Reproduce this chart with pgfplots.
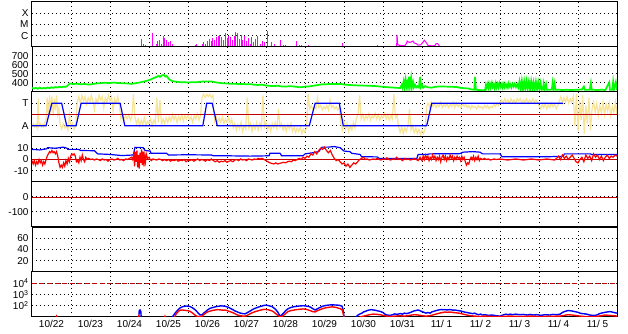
\documentclass[border=0pt]{standalone}
\usepackage{pgfplots}
\pgfplotsset{compat=1.18}
\usepackage{fontspec}
\setmainfont{Liberation Sans}
\definecolor{mag}{RGB}{255,0,255}
\definecolor{grn}{RGB}{0,255,0}
\definecolor{yel}{RGB}{248,228,150}
\definecolor{blu}{RGB}{0,0,255}
\definecolor{rd}{RGB}{255,0,0}
\definecolor{drd}{RGB}{192,0,0}
\pgfplotsset{
 panel/.style={
  width=585pt, height=45pt, scale only axis,
  anchor=south west,
  xmin=0, xmax=15,
  axis line style={black, line width=1pt},
  xtick={0.5,1.5,...,14.5},
  xticklabels={},
  minor xtick={1,2,...,14},
  xminorgrids=true, ymajorgrids=true,
  major tick length=0pt, minor tick length=0pt,
  grid style={black, line width=1pt, dash pattern=on 1pt off 3pt},
  minor grid style={black, line width=1pt, dash pattern=on 1pt off 3pt},
  tick label style={font=\fontsize{10}{11}\selectfont},
  /pgf/number format/assume math mode=true,
  unbounded coords=jump,
  every axis plot/.append style={no marks},
 }
}
\begin{document}
\begin{tikzpicture}
\useasboundingbox (0,0) rectangle (628pt,334pt);
% ---------------- panel 1: X-ray class
\begin{axis}[panel, at={(32pt,287pt)}, ymin=0, ymax=4, ytick={1,2,3}, yticklabels={C,M,X}]
\addplot[mag, ycomb, line width=1pt] coordinates {
(2.82,0.7)(2.85,0.3)(2.90,0.2)(3.08,1.2)(3.10,0.6)(3.18,0.3)(3.23,0.5)(3.26,0.6)(3.31,0.3)
(3.36,0.7)(3.38,1.0)(3.41,0.8)(3.44,0.6)(3.49,0.4)(3.54,0.5)(3.59,0.3)
(4.18,0.2)(4.23,0.3)(4.36,0.3)(4.41,0.4)(4.46,0.3)(4.51,0.5)(4.54,0.7)(4.59,0.5)(4.64,0.8)
(4.67,0.6)(4.72,0.9)(4.74,0.7)(4.77,1.0)(4.79,0.6)(4.82,1.1)(4.85,0.7)(4.87,0.9)(4.92,0.6)
(4.95,1.1)(4.97,1.2)(5.00,0.8)(5.03,1.0)(5.08,0.7)(5.10,0.9)(5.13,0.6)(5.18,1.0)(5.21,1.1)
(5.23,1.3)(5.26,0.9)(5.28,1.2)(5.33,0.7)(5.36,1.1)(5.41,0.6)(5.46,1.0)(5.49,0.5)(5.54,0.8)
(5.59,0.3)(5.64,0.9)(5.69,0.4)(5.74,0.7)(5.79,1.0)(5.85,0.3)(5.90,0.5)(5.95,0.4)(6.03,1.4)
(6.05,0.5)(6.13,0.4)(6.23,0.3)(6.36,0.6)(6.44,0.2)(6.49,0.2)(6.79,0.5)(6.85,0.2)(6.90,0.2)
(7.10,0.2)(7.95,0.35)(7.97,0.3)(8.85,0.2)
};
\addplot[mag, line width=1pt] coordinates {
(9.35,0.1)(9.36,1.07)(9.37,0.6)(9.38,0.2)(9.42,0.15)(9.50,0.12)(9.56,0.12)(9.60,0.3)(9.62,0.53)
(9.65,0.45)(9.69,0.4)(9.72,0.45)(9.77,0.53)(9.80,0.35)(9.85,0.3)(9.90,0.16)(9.97,0.2)(10.03,0.45)
(10.06,0.6)(10.08,0.5)(10.11,0.4)(10.15,0.15)(10.25,0.1)(10.33,0.12)(10.36,0.3)(10.40,0.3)
(10.44,0.12)(10.46,0.0)
};
\end{axis}
% ---------------- panel 2: speed
\begin{axis}[panel, at={(32pt,242pt)}, ymin=300, ymax=800, ytick={400,500,600,700}, yticklabels={400,500,600,700}]
\addplot[grn, line width=1.7pt] coordinates {
(0.00,345)(0.05,338)(0.10,346)(0.15,336)(0.20,348)(0.25,338)(0.30,345)(0.35,340)(0.40,350)(0.45,342)
(0.50,352)(0.55,346)(0.60,355)(0.65,350)(0.70,358)(0.75,352)(0.80,360)(0.85,356)(0.90,365)(0.97,395)
(1.05,388)(1.15,392)(1.25,385)(1.35,390)(1.45,382)(1.55,388)(1.65,395)(1.75,398)(1.85,402)(2.00,400)
(2.10,405)(2.20,400)(2.30,398)(2.45,395)(2.55,390)(2.65,398)(2.75,405)(2.85,415)(2.95,425)(3.05,440)
(3.12,455)(3.20,470)(3.25,480)(3.28,468)(3.33,485)(3.38,490)(3.42,472)(3.45,478)(3.52,440)(3.60,420)
(3.70,415)(3.80,408)(3.90,410)(4.00,405)(4.10,410)(4.20,408)(4.30,412)(4.40,418)(4.50,415)(4.60,418)
(4.70,408)(4.82,400)(4.90,398)(5.00,395)(5.10,390)(5.20,392)(5.30,388)(5.40,390)(5.50,385)(5.60,388)
(5.70,380)(5.80,378)(5.90,382)(6.00,372)(6.10,368)(6.20,365)(6.30,370)(6.40,362)(6.50,360)(6.60,365)
(6.70,362)(6.87,352)(7.00,360)(7.10,362)(7.25,372)(7.44,385)(7.60,388)(7.80,390)(7.95,388)(8.05,380)
(8.20,376)(8.40,372)(8.60,370)(8.80,366)(9.05,356)(9.15,352)(9.25,350)(9.35,346)(9.44,345)(9.48,380)
(9.50,350)(9.53,420)(9.55,355)(9.58,440)(9.60,360)(9.62,400)(9.64,350)(9.67,470)(9.69,360)(9.72,455)
(9.74,350)(9.77,410)(9.79,352)(9.82,380)(9.85,350)(9.88,365)(9.92,350)(9.95,468)(9.97,355)(10.00,380)
(10.03,348)(10.08,365)(10.15,352)(10.25,348)(10.35,358)(10.45,362)(10.60,360)(10.75,358)(10.90,355)
(11.00,345)(11.10,342)(11.20,338)(11.25,330)(11.30,328)(11.34,326)(11.36,468)(11.38,326)(11.45,322)
(11.55,320)(11.62,322)(11.64,380)(11.66,350)(11.69,395)(11.71,345)(11.74,390)(11.76,350)(11.79,400)
(11.81,355)(11.84,385)(11.86,345)(11.89,398)(11.91,350)(11.94,390)(11.96,352)(11.99,400)(12.02,355)
(12.05,390)(12.07,350)(12.10,392)(12.12,355)(12.15,388)(12.18,350)(12.21,395)(12.23,355)(12.26,385)
(12.29,350)(12.32,390)(12.35,360)(12.38,392)(12.41,355)(12.44,385)(12.47,350)(12.50,420)(12.53,330)
(12.56,425)(12.59,325)(12.62,418)(12.65,330)(12.68,420)(12.71,335)(12.74,415)(12.77,325)(12.80,420)
(12.83,330)(12.86,410)(12.89,325)(12.92,415)(12.95,330)(12.98,405)(13.01,325)(13.04,400)(13.07,325)
(13.10,330)(13.12,390)(13.14,325)(13.18,388)(13.20,325)(13.28,325)(13.33,330)(13.35,400)(13.37,330)
(13.40,395)(13.42,325)(13.50,325)(13.60,322)(13.70,325)(13.80,322)(14.00,325)(14.10,328)(14.15,360)
(14.17,325)(14.30,325)(14.33,400)(14.35,325)(14.50,322)(14.60,325)(14.70,322)(14.80,405)(14.82,325)
(14.88,325)(14.90,410)(14.92,325)(14.97,410)(15.00,325)
};
\end{axis}
% ---------------- panel 3: A / T
\begin{axis}[panel, at={(32pt,197pt)}, ymin=0, ymax=4, ytick={1,3}, yticklabels={A,T}]
\addplot[yel, line width=1.2pt] coordinates {
(0.00,1.0)(0.04,1.2)(0.07,0.9)(0.10,1.1)(0.13,0.8)(0.16,3.4)(0.18,1.0)(0.21,1.2)(0.24,0.9)(0.27,1.1)
(0.30,0.9)(0.33,1.3)(0.36,1.6)(0.39,3.5)(0.42,1.8)(0.45,3.7)(0.48,2.2)(0.51,3.6)(0.54,1.9)(0.57,3.4)
(0.60,2.4)(0.63,3.7)(0.66,2.0)(0.69,2.6)(0.72,1.1)(0.76,0.7)(0.80,1.2)(0.84,0.8)(0.88,1.1)(0.92,0.6)
(0.96,2.0)(1.00,0.9)(1.04,1.2)(1.08,0.7)(1.12,1.0)(1.16,3.1)(1.20,3.6)(1.24,3.0)(1.28,3.7)(1.32,3.2)
(1.36,3.6)(1.40,2.9)(1.44,3.5)(1.48,3.1)(1.52,3.7)(1.56,3.2)(1.60,2.4)(1.64,3.4)(1.68,3.0)(1.72,3.7)
(1.76,3.3)(1.80,3.6)(1.84,2.6)(1.88,3.5)(1.92,3.1)(1.96,3.7)(2.00,3.2)(2.04,3.6)(2.08,2.3)(2.12,3.4)
(2.16,3.0)(2.20,3.6)(2.24,2.8)(2.28,1.6)(2.32,2.0)(2.36,1.5)(2.40,1.9)(2.44,1.6)(2.48,2.0)(2.52,1.5)
(2.56,1.8)(2.60,3.8)(2.64,1.7)(2.68,1.2)(2.72,1.6)(2.76,1.0)(2.80,1.5)(2.84,1.1)(2.88,1.7)(2.92,1.0)
(2.96,1.4)(3.00,1.2)(3.04,1.6)(3.08,1.0)(3.12,1.5)(3.16,1.2)(3.20,3.5)(3.24,1.3)(3.28,3.3)(3.32,1.1)
(3.36,1.6)(3.40,1.2)(3.44,1.7)(3.48,1.3)(3.52,1.8)(3.56,1.4)(3.60,2.0)(3.64,1.5)(3.68,1.9)(3.72,1.3)
(3.76,1.8)(3.80,1.5)(3.84,2.0)(3.88,1.4)(3.92,1.9)(3.96,1.6)(4.00,2.0)(4.04,1.5)(4.08,1.8)(4.12,1.3)
(4.16,1.9)(4.20,1.6)(4.24,2.1)(4.28,1.5)(4.32,1.9)(4.36,3.5)(4.40,3.8)(4.44,3.5)(4.48,3.8)(4.52,3.6)
(4.56,3.8)(4.60,3.5)(4.64,3.7)(4.68,1.4)(4.72,1.8)(4.76,1.2)(4.80,1.7)(4.84,1.3)(4.88,1.8)(4.92,1.2)
(4.96,1.6)(5.00,1.3)(5.04,1.8)(5.08,1.2)(5.12,1.6)(5.16,0.8)(5.20,1.2)(5.24,0.6)(5.28,1.1)(5.32,0.7)
(5.36,1.3)(5.40,0.5)(5.44,1.0)(5.48,0.7)(5.52,3.5)(5.56,0.8)(5.60,1.2)(5.64,0.5)(5.68,1.1)(5.72,0.7)
(5.76,1.3)(5.80,0.6)(5.84,1.2)(5.88,0.8)(5.92,3.7)(5.96,0.9)(6.00,1.3)(6.04,0.6)(6.08,1.1)(6.12,0.5)
(6.16,1.2)(6.20,0.8)(6.24,1.3)(6.28,0.7)(6.32,2.5)(6.36,0.9)(6.40,1.2)(6.44,0.6)(6.48,1.0)(6.52,0.5)
(6.56,1.1)(6.60,0.7)(6.64,1.2)(6.68,0.5)(6.72,0.9)(6.76,0.4)(6.80,0.8)(6.84,0.5)(6.88,0.9)(6.92,0.3)
(6.96,0.7)(7.00,0.4)(7.04,0.8)(7.08,3.8)(7.12,2.5)(7.16,2.8)(7.20,2.4)(7.24,2.7)(7.28,2.5)(7.32,3.5)
(7.36,2.6)(7.40,2.8)(7.44,2.4)(7.48,2.7)(7.52,2.5)(7.56,2.8)(7.60,2.4)(7.64,3.3)(7.68,2.6)(7.72,2.8)
(7.76,2.5)(7.80,2.7)(7.84,2.4)(7.88,2.6)(7.92,1.2)(7.96,0.6)(8.00,1.4)(8.04,0.7)(8.08,1.2)(8.12,0.5)
(8.16,1.0)(8.20,0.6)(8.24,1.3)(8.28,0.8)(8.32,1.7)(8.36,2.0)(8.40,3.7)(8.44,1.6)(8.48,2.0)(8.52,1.5)
(8.56,1.9)(8.60,1.6)(8.64,2.1)(8.68,1.5)(8.72,1.9)(8.76,1.7)(8.80,2.1)(8.84,1.6)(8.88,2.0)(8.92,1.5)
(8.96,1.9)(9.00,1.7)(9.04,2.1)(9.08,1.6)(9.12,2.0)(9.16,1.5)(9.20,1.9)(9.24,1.6)(9.28,3.8)(9.32,1.7)
(9.36,2.0)(9.40,0.9)(9.44,0.4)(9.48,0.9)(9.52,0.3)(9.56,0.8)(9.60,0.5)(9.64,1.0)(9.68,2.5)(9.72,0.6)
(9.76,1.0)(9.80,0.4)(9.84,0.8)(9.88,0.3)(9.92,0.7)(9.96,0.2)(10.00,0.6)(10.04,0.3)(10.08,0.7)(10.12,2.7)
(10.16,3.0)(10.20,2.6)(10.24,3.1)(10.28,2.7)(10.32,3.0)(10.36,2.6)(10.40,2.9)(10.44,2.7)(10.48,3.1)
(10.52,2.6)(10.56,2.9)(10.60,2.7)(10.64,3.0)(10.68,2.6)(10.72,2.9)(10.76,2.7)(10.80,3.1)(10.84,2.6)
(10.88,3.0)(10.92,2.7)(10.96,2.9)(11.00,2.6)(11.04,3.0)(11.08,2.7)(11.12,2.9)(11.16,2.6)(11.20,2.8)
(11.24,2.5)(11.28,2.8)(11.32,2.6)(11.36,2.7)(11.40,2.5)(11.44,2.8)(11.48,2.6)(11.52,2.7)(11.56,2.5)
(11.60,2.8)(11.64,2.6)(11.68,2.8)(11.72,2.5)(11.76,2.7)(11.80,2.6)(11.84,2.9)(11.88,2.7)(11.92,3.0)
(11.96,2.8)(12.00,3.1)(12.04,3.3)(12.08,3.0)(12.12,3.4)(12.16,3.1)(12.20,3.3)(12.24,3.0)(12.28,3.4)
(12.32,3.1)(12.36,3.3)(12.40,3.0)(12.44,3.4)(12.48,3.2)(12.52,3.4)(12.56,3.0)(12.60,3.3)(12.64,3.1)
(12.68,3.4)(12.72,3.0)(12.76,3.3)(12.80,3.1)(12.84,3.4)(12.88,3.0)(12.92,3.3)(12.96,3.1)(13.00,2.8)
(13.04,2.5)(13.08,2.9)(13.12,2.6)(13.16,3.0)(13.20,2.5)(13.24,2.9)(13.28,2.6)(13.32,3.0)(13.36,2.7)
(13.40,2.9)(13.44,2.5)(13.48,2.8)(13.52,3.2)(13.56,3.6)(13.60,3.0)(13.64,3.5)(13.68,3.1)(13.72,3.6)
(13.76,3.0)(13.80,3.4)(13.84,3.1)(13.88,3.6)(13.92,1.0)(13.96,3.8)(14.00,0.5)(14.04,3.2)(14.08,1.5)
(14.12,3.7)(14.16,0.3)(14.20,2.8)(14.24,1.2)(14.28,3.5)(14.32,0.6)(14.36,2.5)(14.40,3.1)(14.44,2.2)
(14.48,3.0)(14.52,1.9)(14.56,2.8)(14.60,2.1)(14.64,3.1)(14.68,2.0)(14.72,2.9)(14.76,2.3)(14.80,3.0)
(14.84,1.9)(14.88,2.7)(14.92,2.2)(14.96,3.1)(15.00,2.0)
};
\addplot[drd, line width=1pt] coordinates {(0,2) (15,2)};
\addplot[blu, line width=1.2pt] coordinates {
(0,1)(0.36,1)(0.51,3)(0.76,3)(0.89,1)(1.13,1)(1.26,3)(2.26,3)(2.38,1)(4.38,1)(4.48,3)(4.62,3)(4.75,1)
(7.11,1)(7.26,3)(7.88,3)(7.98,1)(10.12,1)(10.25,3)(13.62,3)
};
\end{axis}
% ---------------- panel 4: Bt / Bz
\begin{axis}[panel, at={(32pt,152pt)}, ymin=-20, ymax=20, ytick={-10,0,10}, yticklabels={-10,0,10}]
\addplot[drd, line width=0.9pt] coordinates {(0,0) (15,0)};
\addplot[blu, line width=1.2pt] coordinates {
(0.00,9)(0.20,8.5)(0.38,9.5)(0.40,10.5)(0.60,10)(0.80,11)(0.90,10)(0.92,9)(1.20,9)(1.25,8)(1.60,7.8)
(1.68,5)(2.00,4.5)(2.30,3.5)(2.60,4)(2.64,10.8)(2.85,10.5)(2.90,8)(3.03,7.5)(3.05,5.5)(3.45,5.5)(3.50,4)
(4.00,4.2)(4.60,4)(4.65,3.3)(5.00,3.3)(5.60,3)(6.08,3.3)(6.10,5.5)(6.36,5.5)(6.40,3.3)(6.95,3.3)(7.00,5)
(7.20,6)(7.35,7)(7.44,11)(7.60,11)(7.75,11.5)(7.90,10.5)(8.00,7.5)(8.15,7)(8.20,5.5)(8.41,4.5)(8.45,2.5)
(8.85,2.3)(8.90,1)(9.40,0.8)(9.87,1)(9.90,4.5)(10.13,4.5)(10.20,5)(10.97,5.2)(11.05,6.5)(11.30,7)(11.49,6.5)
(11.55,5)(12.00,5)(12.05,2.5)(13.28,2.5)(13.62,2.8)(13.65,5)(14.31,5)(14.35,4.5)(15.00,4.5)
};
\addplot[rd, line width=1.2pt] coordinates {
(0.00,-1)(0.03,-4)(0.06,-1)(0.09,-5)(0.12,-2)(0.15,-4)(0.18,0)(0.21,-3)(0.24,-1)(0.27,-5)(0.30,-2)
(0.33,-4)(0.36,0)(0.39,3)(0.42,5)(0.45,7)(0.48,6)(0.51,8)(0.54,6)(0.57,7)(0.60,5)(0.63,7)(0.66,3)
(0.69,-3)(0.72,-7)(0.75,-5)(0.78,-7)(0.81,-3)(0.84,-6)(0.87,-1)(0.90,-4)(0.93,1)(0.96,-2)(0.99,3)
(1.02,5)(1.05,4)(1.08,5)(1.11,3)(1.14,-2)(1.17,-1)(1.20,-3)(1.23,2)(1.26,-1)(1.29,4)(1.32,0)(1.35,-2)
(1.38,2)(1.41,0)(1.45,1)(1.50,0)(1.55,0.5)(1.60,-0.5)(1.65,0.5)(1.70,0)(1.75,-1)(1.80,0.5)(1.85,-0.5)
(1.90,0)(1.95,-1.5)(2.00,0)(2.05,0.5)(2.10,-0.5)(2.15,0)(2.20,1)(2.25,-0.5)(2.30,0)(2.35,-1)(2.40,0.5)
(2.45,0)(2.50,1)(2.55,2)(2.58,0)(2.61,5)(2.63,-6)(2.65,7)(2.67,-2)(2.69,8)(2.71,-7)(2.73,4)(2.75,-8)
(2.77,6)(2.79,-3)(2.81,9)(2.83,-5)(2.85,7)(2.87,-6)(2.89,3)(2.91,-2)(2.93,5)(2.96,1)(3.00,2)(3.03,0)
(3.06,-1)(3.10,0.5)(3.15,0)(3.20,-0.5)(3.25,0.5)(3.30,0)(3.35,-1)(3.40,0)(3.45,-1)(3.50,0)(3.55,-1.5)
(3.60,-0.5)(3.65,-1)(3.70,0)(3.75,-1.5)(3.80,-0.5)(3.85,-1)(3.90,0)(3.95,-2)(4.00,-0.5)(4.05,-1)(4.10,0)
(4.15,-1.5)(4.20,-0.5)(4.25,0.5)(4.30,-1)(4.35,0)(4.40,-0.5)(4.45,-1.5)(4.50,0)(4.55,-1)(4.60,0.5)
(4.65,-1)(4.70,-2)(4.75,-1)(4.80,-2.5)(4.85,-1.5)(4.90,-2)(4.95,-1)(5.00,-2.5)(5.05,-1.5)(5.10,-1)
(5.15,-2)(5.20,-0.5)(5.25,0)(5.30,-1)(5.35,0.5)(5.40,-0.5)(5.45,0)(5.50,-1)(5.55,0.5)(5.60,0)(5.65,-0.5)
(5.70,0.5)(5.75,0)(5.80,1)(5.85,0.5)(5.90,1)(5.95,0)(6.00,-1)(6.05,-2)(6.10,-3)(6.15,-3.5)(6.20,-4)
(6.25,-3)(6.30,-4)(6.35,-3.5)(6.40,-3)(6.45,-2.5)(6.50,-3)(6.55,-2)(6.60,-1.5)(6.65,-2)(6.70,-0.5)
(6.75,-1)(6.80,0)(6.85,1)(6.90,0)(6.95,2)(7.00,1)(7.05,3)(7.10,2)(7.15,5)(7.20,4)(7.25,7)(7.30,5)
(7.35,8)(7.40,10)(7.45,9)(7.50,11)(7.55,8)(7.60,6)(7.65,8)(7.70,4)(7.75,1)(7.80,-1)(7.85,0)(7.90,-2)
(7.95,-4)(8.00,-3)(8.05,-6)(8.10,-4)(8.15,-7)(8.20,-5)(8.25,-3)(8.30,-4)(8.35,-2)(8.40,0)(8.45,1)(8.50,2)
(8.55,0)(8.60,0.5)(8.65,-0.5)(8.70,0)(8.75,0.5)(8.80,0)(8.85,1)(8.90,0)(8.95,-0.5)(9.00,0.5)(9.05,0)
(9.10,1.5)(9.15,0)(9.20,-0.5)(9.25,0.5)(9.30,0)(9.35,2)(9.40,0)(9.45,0.5)(9.50,-1)(9.55,1)(9.60,0)
(9.65,0.5)(9.70,-0.5)(9.75,0)(9.80,1)(9.85,0)(9.90,-1)(9.95,2)(10.00,-1)(10.03,3)(10.06,0)(10.09,4)
(10.12,1)(10.15,3)(10.18,-1)(10.21,2)(10.24,0)(10.27,4)(10.30,1)(10.33,3)(10.36,-1)(10.39,2)(10.42,0)
(10.45,3)(10.48,-2)(10.51,2)(10.54,4)(10.57,0)(10.60,3)(10.63,-1)(10.66,2)(10.69,0)(10.72,4)(10.75,1)
(10.78,3)(10.81,-1)(10.84,2)(10.87,0)(10.90,3)(10.93,1)(10.96,2)(10.99,-1)(11.02,3)(11.05,0)(11.08,2)
(11.11,-2)(11.14,-5)(11.17,-3)(11.20,-4)(11.23,0)(11.26,2)(11.29,0)(11.32,3)(11.35,-1)(11.38,2)(11.41,0)
(11.44,3)(11.47,-1)(11.50,1)(11.55,0)(11.60,1)(11.65,0)(11.70,0.5)(11.75,-0.5)(11.80,0)(11.85,0.5)
(11.90,0)(12.0,0.5)(12.1,0)(12.2,-0.5)(12.3,0)(12.4,0.5)(12.5,0)(12.6,-0.5)(12.7,0)(12.8,0.5)(12.9,0)
(13.0,-0.5)(13.1,0)(13.2,0.5)(13.3,0)(13.4,-0.5)(13.45,1)(13.5,3)(13.55,0)(13.6,4)(13.65,1)(13.7,3)
(13.75,0)(13.8,2)(13.85,4)(13.9,1)(13.95,-2)(14.0,-3)(14.05,0)(14.1,2)(14.15,-2)(14.2,4)(14.25,1)
(14.3,3)(14.35,-1)(14.4,5)(14.45,2)(14.5,4)(14.55,0)(14.6,3)(14.65,-1)(14.7,2)(14.75,4)(14.8,1)
(14.85,3)(14.9,2)(14.95,4)(15.0,3)
};
\end{axis}
% ---------------- panel 5
\begin{axis}[panel, at={(32pt,107pt)}, ymin=-200, ymax=100, ytick={-100,0}, yticklabels={-100,0}]
\addplot[drd, line width=0.9pt] coordinates {(0,0) (15,0)};
\end{axis}
% ---------------- panel 6
\begin{axis}[panel, at={(32pt,62pt)}, ymin=0, ymax=80, ytick={20,40,60}, yticklabels={20,40,60}]
\end{axis}
% ---------------- panel 7
\begin{axis}[panel, at={(32pt,17pt)}, ymode=log, ymin=10, ymax=100000,
  ytick={100,1000,10000}, yticklabels={10\textsuperscript{2},10\textsuperscript{3},10\textsuperscript{4}},
  xticklabels={10/22,10/23,10/24,10/25,10/26,10/27,10/28,10/29,10/30,10/31,11/ 1,11/ 2,11/ 3,11/ 4,11/ 5}]
\addplot[drd, line width=1pt, dash pattern=on 5pt off 2.5pt] coordinates {(0,10000) (15,10000)};
\addplot[blu, line width=1.4pt] coordinates {
(2.74,10)(2.75,38)(2.77,42)(2.79,30)(2.80,10)(2.81,nan)
(3.60,10)(3.65,18)(3.70,30)(3.75,45)(3.79,62)(3.85,80)(3.90,88)(3.95,95)(4.00,92)(4.05,85)(4.10,70)
(4.15,55)(4.20,38)(4.25,25)(4.31,15)(4.36,16)(4.40,22)(4.45,30)(4.50,42)(4.55,55)(4.60,65)(4.65,72)
(4.70,80)(4.75,88)(4.80,92)(4.85,98)(4.90,95)(4.95,90)(5.00,80)(5.05,70)(5.10,55)(5.15,45)(5.20,35)
(5.25,30)(5.30,25)(5.35,22)(5.40,20)(5.46,19)(5.50,22)(5.55,28)(5.60,35)(5.65,45)(5.70,55)(5.75,65)
(5.80,75)(5.85,85)(5.90,95)(5.95,108)(6.00,112)(6.05,105)(6.10,95)(6.15,85)(6.20,65)(6.25,45)(6.30,28)
(6.36,12)(6.40,15)(6.45,22)(6.50,35)(6.55,50)(6.60,62)(6.65,72)(6.70,80)(6.75,85)(6.80,90)(6.85,95)
(6.90,98)(6.95,100)(7.00,98)(7.05,92)(7.10,85)(7.15,72)(7.20,55)(7.26,42)(7.30,50)(7.35,62)(7.40,75)
(7.45,90)(7.50,100)(7.55,108)(7.60,115)(7.65,118)(7.70,122)(7.75,118)(7.80,115)(7.85,112)(7.90,105)
(7.95,90)(7.98,40)(8.00,10)(8.01,nan)
(8.30,10)(8.35,14)(8.40,18)(8.46,22)(8.50,28)(8.55,32)(8.60,38)(8.65,42)(8.70,45)(8.75,42)(8.80,40)
(8.85,36)(8.92,32)(9.00,25)(9.05,18)(9.10,15)(9.18,14)(9.25,16)(9.30,19)(9.35,17)(9.44,20)(9.50,18)
(9.55,22)(9.60,20)(9.69,24)(9.75,30)(9.80,35)(9.85,38)(9.90,42)(9.95,36)(10.00,30)(10.05,26)(10.10,22)
(10.15,25)(10.21,22)(10.25,28)(10.30,32)(10.35,36)(10.40,40)(10.45,44)(10.50,46)(10.55,44)(10.60,45)
(10.65,42)(10.70,46)(10.75,44)(10.80,40)(10.85,42)(10.90,38)(10.95,36)(11.00,34)(11.05,30)(11.10,27)
(11.15,25)(11.23,22)(11.30,20)(11.35,22)(11.40,18)(11.45,16)(11.50,18)(11.55,15)(11.62,16)(11.70,14)
(11.80,15)(11.90,13)(12.00,12)(12.05,14)(12.10,16)(12.15,18)(12.20,16)(12.26,18)(12.32,16)(12.40,18)
(12.50,16)(12.60,17)(12.70,15)(12.77,17)(12.85,15)(12.95,16)(13.05,14)(13.15,16)(13.28,15)(13.35,17)
(13.45,16)(13.54,18)(13.60,25)(13.65,30)(13.70,34)(13.74,38)(13.80,36)(13.85,34)(13.92,30)(14.00,26)
(14.05,22)(14.10,20)(14.18,19)(14.25,17)(14.30,15)(14.38,14)(14.44,14)(14.50,16)(14.55,20)(14.60,22)
(14.69,26)(14.75,28)(14.82,30)(14.87,28)(14.92,25)(15.00,22)
};
\addplot[rd, line width=1.4pt] coordinates {
(0.62,10)(0.63,12)(0.64,10)(0.65,nan)
(2.72,10)(2.73,12)(2.74,10)(2.745,nan)
(3.40,10)(3.41,12)(3.42,10)(3.43,nan)
(3.66,10)(3.70,20)(3.75,30)(3.79,40)(3.85,42)(3.90,40)(3.95,38)(4.00,36)(4.05,32)(4.10,25)(4.15,18)
(4.20,13)(4.25,11)(4.31,10.5)(4.36,12)(4.40,16)(4.45,22)(4.50,28)(4.55,32)(4.60,36)(4.65,40)(4.70,42)
(4.75,45)(4.80,44)(4.85,42)(4.90,40)(4.95,42)(5.00,38)(5.05,32)(5.10,28)(5.15,24)(5.20,20)(5.25,16)
(5.30,14)(5.35,13)(5.40,12)(5.46,12)(5.50,13)(5.55,16)(5.60,20)(5.65,24)(5.70,28)(5.75,32)(5.80,36)
(5.85,40)(5.90,44)(5.95,48)(6.00,46)(6.05,44)(6.10,40)(6.15,35)(6.20,28)(6.25,20)(6.30,14)(6.36,10)
(6.40,11)(6.45,14)(6.50,20)(6.55,28)(6.60,34)(6.65,38)(6.70,40)(6.75,44)(6.80,46)(6.85,48)(6.90,50)
(6.95,52)(7.00,50)(7.05,46)(7.10,40)(7.15,35)(7.20,30)(7.26,28)(7.30,34)(7.35,40)(7.40,48)(7.45,55)
(7.50,62)(7.55,68)(7.60,72)(7.65,76)(7.70,80)(7.75,75)(7.80,70)(7.85,62)(7.90,55)(7.95,45)(7.98,20)
(8.00,10)(8.01,nan)
(8.40,10)(8.46,11)(8.55,13)(8.65,16)(8.75,18)(8.85,17)(8.92,16)(9.00,14)(9.10,12)(9.20,11)(9.30,12)
(9.44,13)(9.55,12)(9.69,14)(9.80,16)(9.90,15)(10.00,13)(10.10,12)(10.21,13)(10.30,16)(10.40,20)
(10.50,24)(10.59,28)(10.65,26)(10.72,28)(10.80,25)(10.85,24)(10.95,22)(11.05,18)(11.15,15)(11.23,13)
(11.35,12)(11.50,11)(11.62,12)(11.80,11)(12.00,11)(12.26,12)(12.50,11)(12.77,12)(13.00,11)(13.28,11.5)
(13.54,12)(13.65,14)(13.74,16)(13.85,15)(13.92,14)(14.05,12)(14.18,11)(14.44,11)(14.60,13)(14.69,15)
(14.80,14)(14.92,13)(15.00,12)
};
\end{axis}
\end{tikzpicture}
\end{document}
